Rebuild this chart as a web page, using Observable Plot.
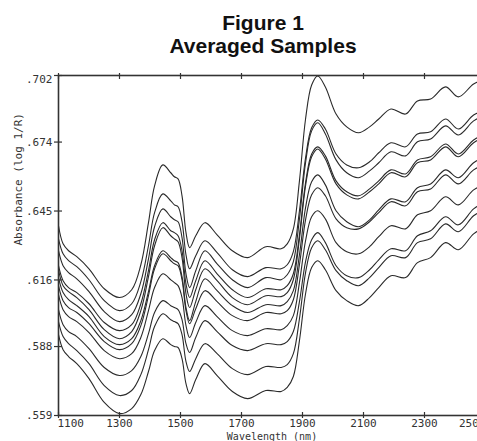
<!DOCTYPE html>
<html><head><meta charset="utf-8">
<script src="https://cdn.jsdelivr.net/npm/d3@7"></script>
<script src="https://cdn.jsdelivr.net/npm/@observablehq/plot@0.6"></script>
<style>
html,body{margin:0;padding:0;background:#fff;overflow:hidden;width:477px;height:441px;}
#title{position:absolute;left:0;top:11px;width:477px;box-sizing:border-box;padding-left:49px;text-align:center;font:bold 21px/23px "Liberation Sans",Arial,sans-serif;color:#111;}
#chart{position:absolute;left:0;top:62px;width:490px;}
#chart svg{max-width:none !important;}
</style></head><body>
<div id="title"></div>
<div id="chart"></div>
<script>
const wavelengths = [1100,1115,1133,1160,1200,1250,1300,1340,1370,1395,1415,1442,1468,1480,1492,1505,1518,1530,1550,1580,1620,1670,1720,1780,1830,1850,1870,1890,1910,1930,1950,1975,2010,2045,2084,2120,2150,2190,2238,2277,2320,2369,2411,2461,2500];

const sample1 = [.6388,.6312,.6283,.6258,.6207,.6123,.6086,.6119,.6224,.6401,.6556,.6644,.6611,.6594,.6585,.6514,.6359,.6296,.6346,.6401,.6350,.6283,.6254,.6300,.6291,.6312,.6375,.6577,.6837,.6980,.7018,.6972,.6858,.6804,.6779,.6804,.6837,.6879,.6858,.6913,.6921,.6972,.6930,.6984,.7005];
const sample2 = [.6333,.6270,.6241,.6216,.6161,.6073,.6031,.6060,.6153,.6304,.6443,.6522,.6493,.6476,.6468,.6405,.6266,.6207,.6262,.6325,.6275,.6203,.6174,.6212,.6207,.6224,.6279,.6451,.6674,.6800,.6833,.6795,.6690,.6644,.6632,.6657,.6695,.6737,.6720,.6774,.6783,.6837,.6795,.6854,.6875];
const sample3 = [.6283,.6220,.6191,.6165,.6111,.6027,.5985,.6014,.6102,.6249,.6384,.6459,.6426,.6413,.6405,.6338,.6186,.6128,.6199,.6283,.6228,.6161,.6128,.6170,.6161,.6182,.6237,.6417,.6653,.6787,.6821,.6774,.6665,.6611,.6590,.6619,.6653,.6699,.6682,.6741,.6753,.6808,.6770,.6829,.6854];
const sample4 = [.6220,.6157,.6128,.6107,.6060,.5981,.5947,.5972,.6060,.6199,.6329,.6401,.6367,.6359,.6346,.6283,.6144,.6086,.6157,.6241,.6186,.6119,.6086,.6123,.6119,.6136,.6186,.6350,.6569,.6690,.6720,.6682,.6577,.6531,.6514,.6543,.6577,.6623,.6606,.6665,.6678,.6732,.6690,.6749,.6774];
const sample5 = [.6203,.6136,.6111,.6086,.6035,.5951,.5913,.5943,.6031,.6174,.6304,.6380,.6346,.6333,.6321,.6254,.6102,.6044,.6119,.6207,.6157,.6086,.6056,.6094,.6090,.6107,.6161,.6333,.6556,.6678,.6711,.6669,.6564,.6518,.6501,.6531,.6564,.6611,.6594,.6653,.6665,.6720,.6678,.6737,.6762];
const sample6 = [.6170,.6107,.6077,.6052,.6006,.5922,.5888,.5913,.5989,.6111,.6220,.6283,.6254,.6241,.6233,.6174,.6044,.5989,.6069,.6165,.6115,.6052,.6023,.6056,.6052,.6069,.6115,.6266,.6464,.6573,.6602,.6560,.6451,.6405,.6384,.6413,.6455,.6501,.6489,.6548,.6564,.6623,.6590,.6653,.6678];
const sample7 = [.6136,.6073,.6044,.6023,.5976,.5901,.5867,.5892,.5968,.6094,.6207,.6270,.6241,.6228,.6220,.6161,.6031,.5976,.6039,.6115,.6069,.6010,.5989,.6023,.6018,.6031,.6077,.6224,.6413,.6518,.6548,.6514,.6417,.6380,.6375,.6405,.6443,.6489,.6472,.6531,.6543,.6602,.6564,.6623,.6648];
const sample8 = [.6098,.6035,.6006,.5985,.5939,.5863,.5829,.5850,.5918,.6031,.6128,.6186,.6161,.6149,.6136,.6086,.5968,.5918,.5981,.6052,.6006,.5947,.5926,.5955,.5951,.5968,.6010,.6149,.6325,.6426,.6451,.6417,.6317,.6279,.6270,.6300,.6342,.6388,.6375,.6434,.6451,.6510,.6476,.6539,.6564];
const sample9 = [.6035,.5972,.5943,.5922,.5871,.5792,.5758,.5779,.5838,.5934,.6023,.6073,.6052,.6044,.6035,.5993,.5892,.5855,.5918,.5989,.5943,.5884,.5863,.5892,.5888,.5901,.5943,.6069,.6237,.6329,.6359,.6317,.6220,.6178,.6170,.6203,.6245,.6291,.6283,.6346,.6367,.6426,.6392,.6459,.6489];
const sample10 = [.5985,.5922,.5892,.5863,.5808,.5716,.5674,.5695,.5762,.5867,.5964,.6018,.5993,.5985,.5976,.5930,.5817,.5775,.5829,.5892,.5850,.5787,.5762,.5796,.5792,.5804,.5850,.5997,.6191,.6296,.6325,.6287,.6199,.6157,.6136,.6170,.6212,.6262,.6254,.6317,.6333,.6396,.6363,.6430,.6459];
const sample11 = [.5930,.5867,.5838,.5808,.5745,.5645,.5598,.5619,.5678,.5775,.5863,.5913,.5888,.5880,.5876,.5829,.5724,.5682,.5741,.5808,.5758,.5691,.5661,.5695,.5691,.5708,.5754,.5905,.6102,.6212,.6241,.6203,.6115,.6073,.6052,.6086,.6128,.6178,.6170,.6233,.6254,.6317,.6287,.6354,.6384];

const xTicks = [1100,1300,1500,1700,1900,2100,2300,2500];
const xTickLabels = ["1100","1300","1500","1700","1900","2100","2300","2500"];
const yTicks = [0.559,0.588,0.616,0.645,0.674,0.702];
const yTickLabels = [".559",".588",".616",".645",".674",".702"];
const titleLines = ["Figure 1","Averaged Samples"];
const xLabel = "Wavelength (nm)";
const yLabel = "Absorbance (log 1/R)";

document.getElementById("title").innerHTML = titleLines.join("<br>");

const series = [sample1,sample2,sample3,sample4,sample5,sample6,sample7,sample8,sample9,sample10,sample11];
const rows = series.flatMap((vals, s) => wavelengths.map((w, j) => ({w, v: vals[j], s})));
const xLab = xTicks.map((w, i) => ({w, label: xTickLabels[i]}));
const yLab = yTicks.map((v, i) => ({v, label: yTickLabels[i]}));

const font = "'DejaVu Sans Mono', monospace";
const ink = "#333";

const chart = Plot.plot({
  width: 490, height: 379,
  marginLeft: 58, marginRight: 5, marginTop: 13, marginBottom: 26,
  style: {background: "white", maxWidth: "none"},
  x: {domain: [1100, 2500], axis: null},
  y: {domain: [0.559, 0.702], axis: null},
  marks: [
    Plot.line(rows, {x: "w", y: "v", z: "s", curve: "catmull-rom", stroke: "#2a2a2a", strokeWidth: 1.1}),
    Plot.frame({stroke: ink, strokeWidth: 1.6}),
    Plot.tickY(yTicks, {y: d => d, insetLeft: -4, insetRight: 423, stroke: ink, strokeWidth: 1.2}),
    Plot.tickX(xTicks, {x: d => d, insetTop: 337, insetBottom: -3, stroke: ink, strokeWidth: 1.2}),
    Plot.tickX(xTicks, {x: d => d, insetTop: -2, insetBottom: 336, stroke: ink, strokeWidth: 1.2}),
    Plot.text(yLab.slice(0, 5), {y: "v", text: "label", frameAnchor: "left", textAnchor: "end", dx: -6, fontFamily: font, fontSize: 11, fill: ink}),
    Plot.text(yLab.slice(5), {y: "v", text: "label", frameAnchor: "left", textAnchor: "end", dx: -6, dy: 4, fontFamily: font, fontSize: 11, fill: ink}),
    Plot.text(xLab.slice(1, -1), {x: "w", text: "label", frameAnchor: "bottom", lineAnchor: "top", dy: 4, fontFamily: font, fontSize: 11, fill: ink}),
    Plot.text(xLab.slice(0, 1), {x: "w", text: "label", frameAnchor: "bottom", lineAnchor: "top", textAnchor: "start", dx: -1, dy: 4, fontFamily: font, fontSize: 11, fill: ink}),
    Plot.text(xLab.slice(-1), {x: "w", text: "label", frameAnchor: "bottom", lineAnchor: "top", textAnchor: "end", dy: 4, fontFamily: font, fontSize: 11, fill: ink}),
    Plot.text([xLabel], {text: d => d, frameAnchor: "bottom", lineAnchor: "top", dy: 17, fontFamily: font, fontSize: 10, fill: ink}),
    Plot.text([yLabel], {text: d => d, frameAnchor: "left", rotate: -90, dx: -40, fontFamily: font, fontSize: 11, fill: ink})
  ]
});
document.getElementById("chart").appendChild(chart);
</script></body></html>
